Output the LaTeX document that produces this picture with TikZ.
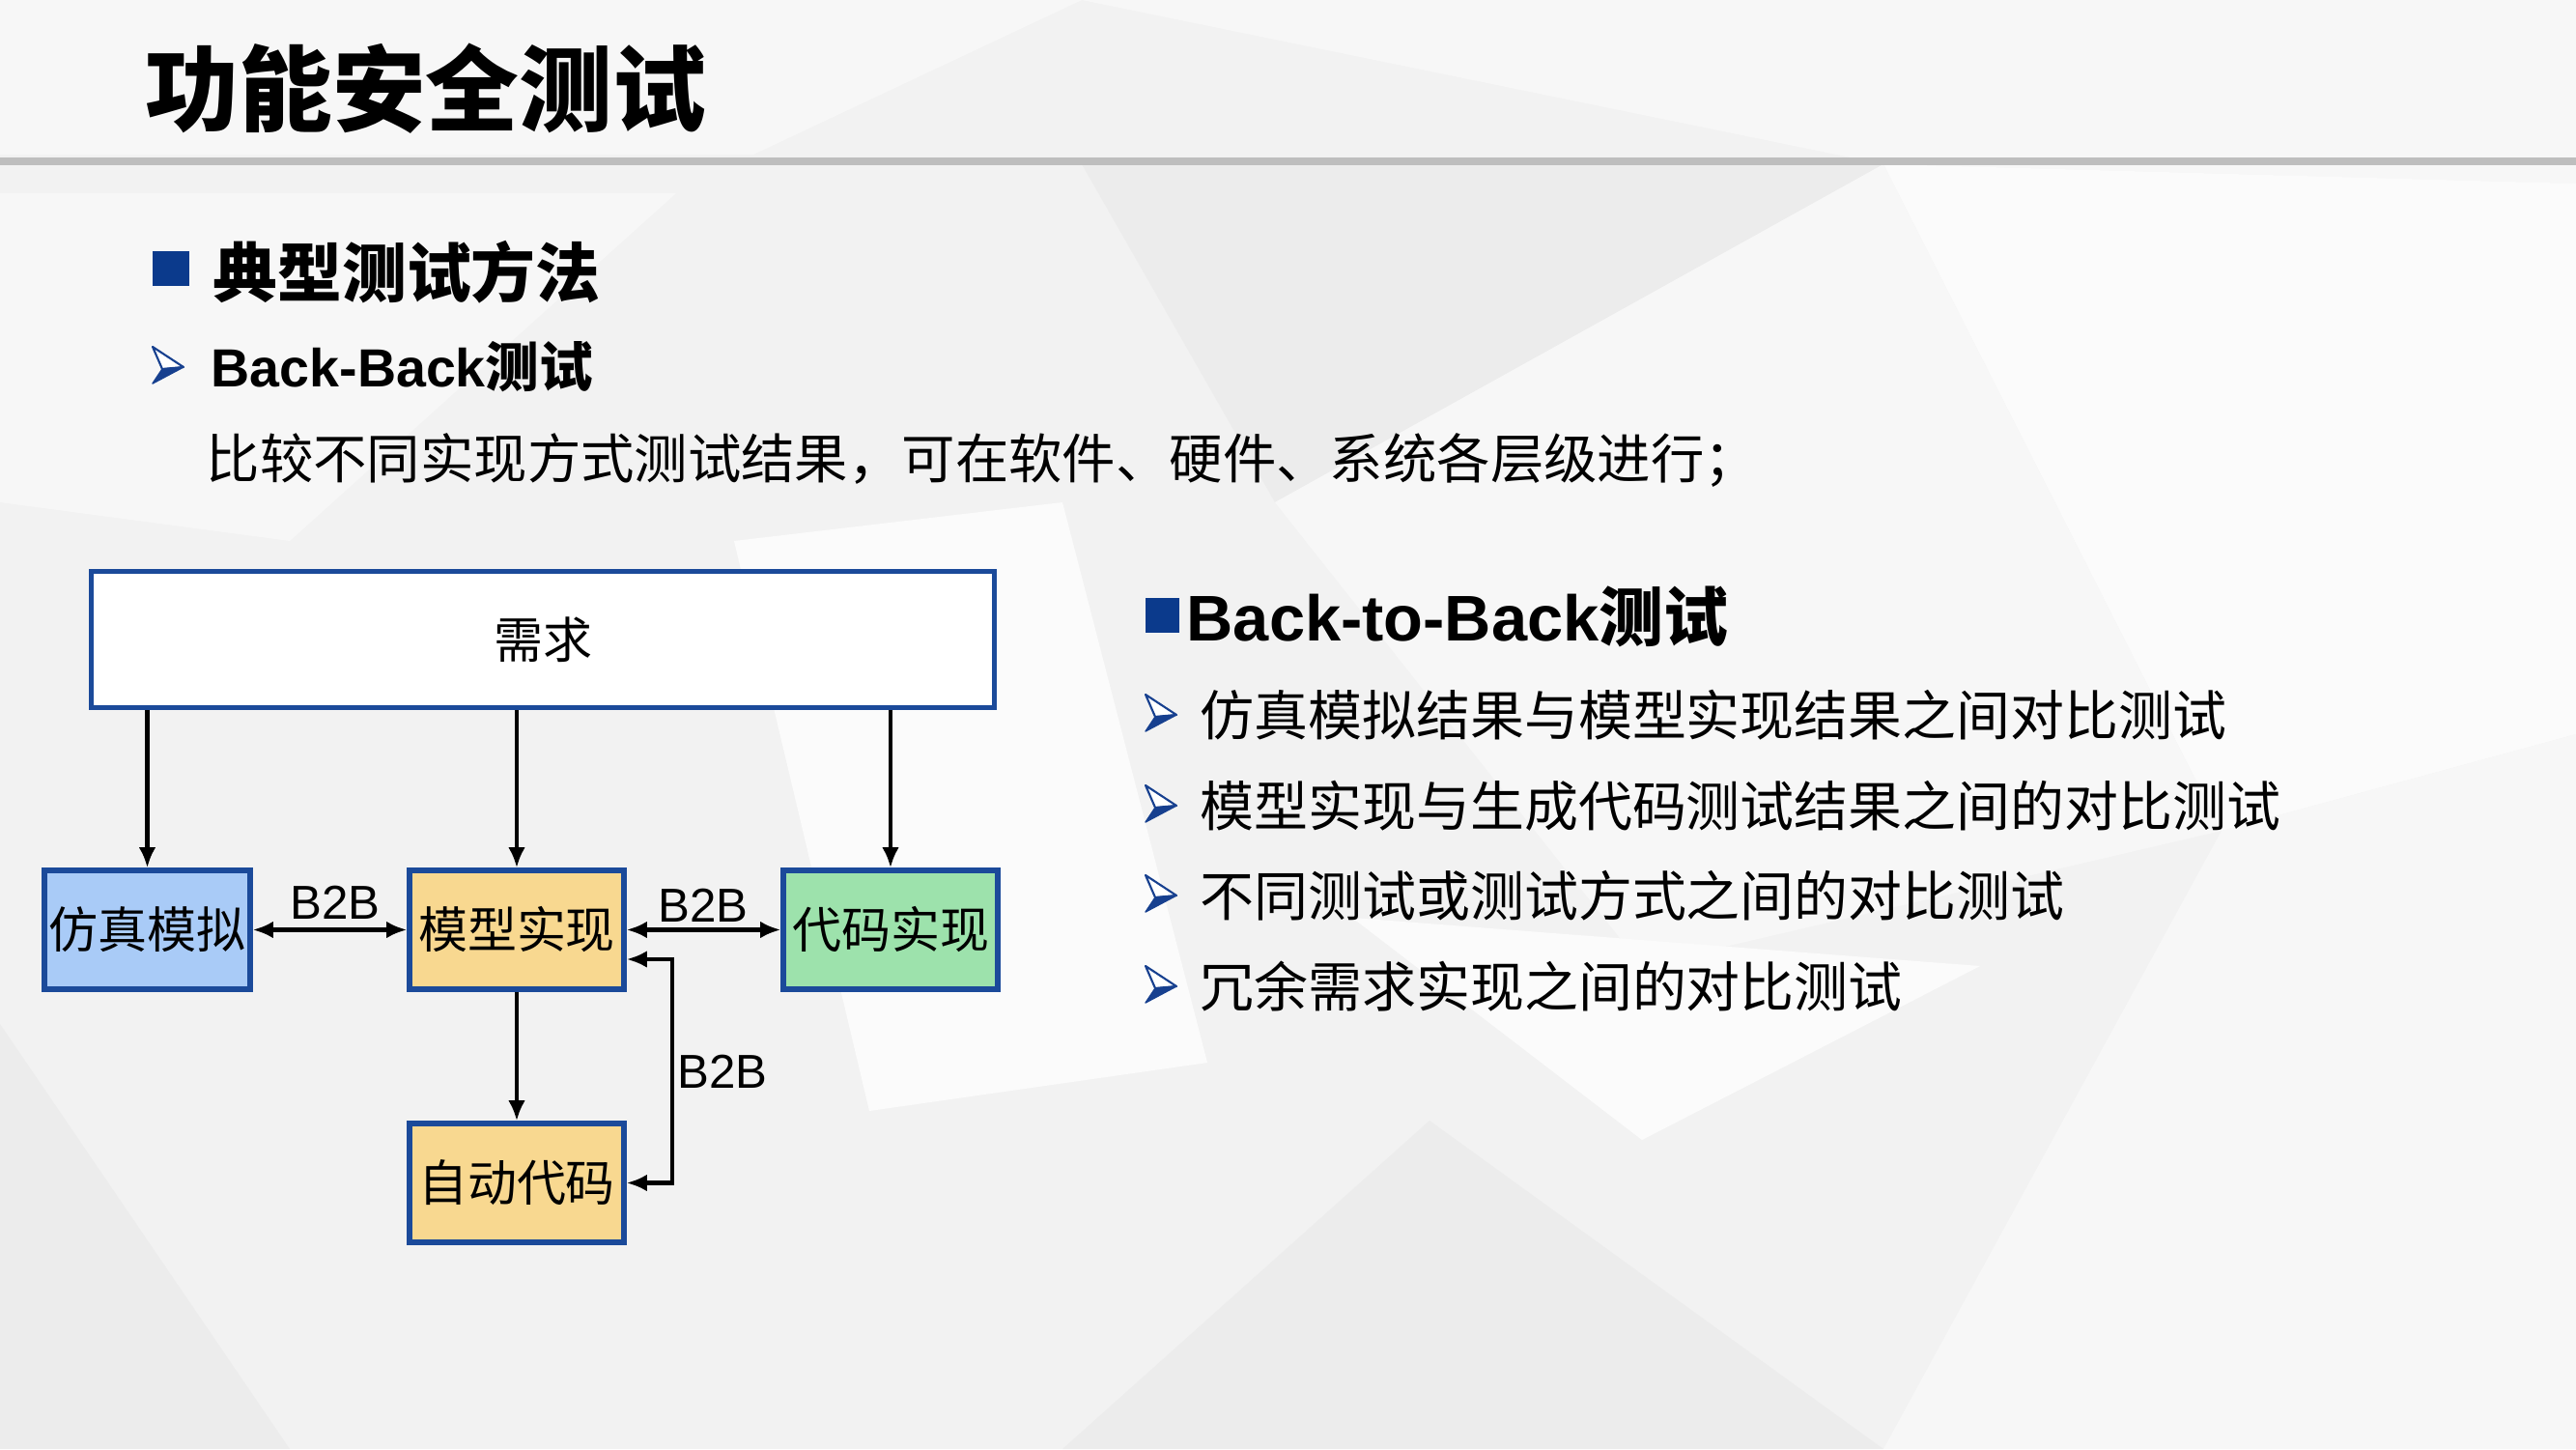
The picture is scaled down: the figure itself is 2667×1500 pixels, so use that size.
\documentclass[tikz,border=0pt]{standalone}
\usepackage{fontspec}
\setmainfont{Liberation Sans}
\newfontfamily\cjk{Noto Sans CJK SC}
\usetikzlibrary{arrows.meta}
\definecolor{bgbase}{HTML}{F2F2F2}
\definecolor{bglight}{HTML}{F7F7F7}
\definecolor{bgwhite}{HTML}{FBFBFB}
\definecolor{bgdark}{HTML}{ECECEC}
\definecolor{rulegray}{HTML}{BEBEBE}
\definecolor{sqblue}{HTML}{0B3A8C}
\definecolor{bulblue}{HTML}{17408F}
\definecolor{boxblue}{HTML}{1B4A9A}
\definecolor{simfill}{HTML}{A9CBF7}
\definecolor{modfill}{HTML}{F8D890}
\definecolor{codefill}{HTML}{9DE2AC}
\newcommand{\arrbul}[2]{%
  \begin{scope}[shift={(#1,#2)}]
    \filldraw[draw=bulblue, fill=white, line width=0.6pt, line join=round] (0,-19) -- (32,2) -- (10,4) -- cycle;
    \filldraw[bulblue, line join=round] (10,4) -- (32,2) -- (0,19) -- cycle;
  \end{scope}}
\begin{document}
\begin{tikzpicture}[x=0.01cm, y=-0.01cm,
  box/.style={draw=boxblue, line width=1.5pt, inner sep=0pt, minimum height=1.23cm,
              font=\cjk\fontsize{14.5}{17}\selectfont},
  arr/.style={-{Latex[length=6pt,width=5pt]}, line width=1.3pt},
  darr/.style={{Latex[length=6pt,width=5pt]}-{Latex[length=6pt,width=5pt]}, line width=1.3pt},
  lbl/.style={inner sep=0pt, font=\fontsize{14}{17}\selectfont},
  itemtxt/.style={anchor=west, inner sep=0pt, font=\cjk\fontsize{15.9}{19}\selectfont}]
\useasboundingbox (0,0) rectangle (2667,1500);
% background facets
\fill[bgbase] (0,0) rectangle (2667,1500);
\fill[bglight] (1120,0) -- (2667,0) -- (2667,190) -- (1950,170) -- cycle;
\fill[bgdark] (1120,170) -- (1950,170) -- (1320,520) -- cycle;
\fill[bgwhite] (1950,170) -- (2667,190) -- (2667,760) -- (2300,860) -- cycle;
\fill[bglight] (1320,520) -- (1950,170) -- (2300,860) -- (1700,1000) -- cycle;
\fill[bgwhite] (1400,950) -- (2050,1000) -- (1700,1180) -- cycle;
\fill[bgdark] (1100,1500) -- (1480,1160) -- (1950,1500) -- cycle;
\fill[bglight] (1950,1500) -- (2300,860) -- (2667,760) -- (2667,1500) -- cycle;
\fill[bgdark] (0,1060) -- (300,1500) -- (0,1500) -- cycle;
\fill[bglight] (0,200) -- (700,200) -- (300,560) -- (0,520) -- cycle;
\fill[bgwhite] (760,560) -- (1100,520) -- (1250,1100) -- (900,1150) -- cycle;
\fill[bglight] (0,0) -- (1120,0) -- (780,160) -- (0,160) -- cycle;
% title and rule
\node[anchor=west, inner sep=0pt, font=\cjk\bfseries\fontsize{27.5}{30}\selectfont] (title) at (150,92) {功能安全测试};
\fill[rulegray] (0,163) rectangle (2667,171);
% left text block
\fill[sqblue] (158,260) rectangle (196,296);
\node[anchor=west, inner sep=0pt, font=\cjk\bfseries\fontsize{19}{22}\selectfont] (h1) at (220,282) {典型测试方法};
\arrbul{158}{378}
\node[anchor=west, inner sep=0pt, font=\bfseries\fontsize{15.8}{19}\selectfont] (h2) at (218,380) {Back-Back{\cjk 测试}};
\node[anchor=west, inner sep=0pt, font=\cjk\fontsize{15.75}{19}\selectfont] (d1) at (213,476) {比较不同实现方式测试结果，可在软件、硬件、系统各层级进行；};
% right text block
\fill[sqblue] (1186,619) rectangle (1221,655);
\node[anchor=west, inner sep=0pt, font=\bfseries\fontsize{19}{22}\selectfont] (h3) at (1228,638) {Back-to-Back{\cjk 测试}};
\arrbul{1186}{738}
\node[itemtxt] (i1) at (1242,740) {仿真模拟结果与模型实现结果之间对比测试};
\arrbul{1186}{832}
\node[itemtxt] (i2) at (1242,834) {模型实现与生成代码测试结果之间的对比测试};
\arrbul{1186}{925}
\node[itemtxt] (i3) at (1242,927) {不同测试或测试方式之间的对比测试};
\arrbul{1186}{1019}
\node[itemtxt] (i4) at (1242,1021) {冗余需求实现之间的对比测试};
% diagram
\node[box, fill=white, minimum width=9.34cm, minimum height=1.41cm] (req) at (562,662) {需求};
\node[box, fill=simfill, minimum width=2.13cm] (sim) at (152.5,962.5) {仿真模拟};
\node[box, fill=modfill, minimum width=2.22cm] (mod) at (535,962.5) {模型实现};
\node[box, fill=codefill, minimum width=2.22cm] (code) at (922,962.5) {代码实现};
\node[box, fill=modfill, minimum width=2.22cm] (auto) at (535,1224.5) {自动代码};
\draw[arr] (req.south -| sim.north) -- (sim.north);
\draw[arr] (req.south -| mod.north) -- (mod.north);
\draw[arr] (req.south -| code.north) -- (code.north);
\draw[darr] (sim.east) -- (mod.west);
\draw[darr] (mod.east) -- (code.west);
\draw[arr] (mod.south) -- (auto.north);
\coordinate (lp) at (696,993);
\draw[darr] (mod.east |- lp) -- (lp) |- (auto.east);
\node[lbl] (b1) at (347,934) {B2B};
\node[lbl] (b2) at (728,937) {B2B};
\node[lbl] (b3) at (748,1109) {B2B};
\end{tikzpicture}
\end{document}
